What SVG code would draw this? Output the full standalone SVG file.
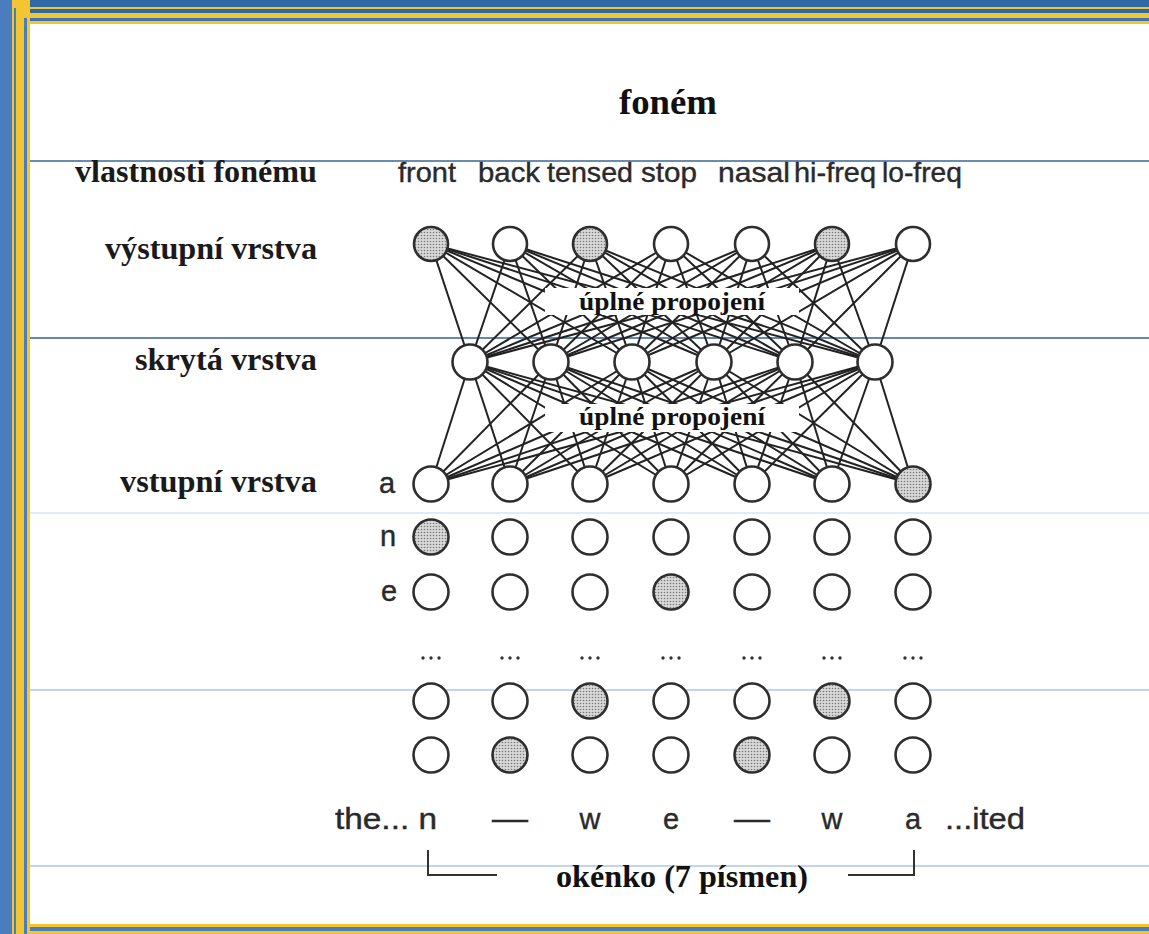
<svg xmlns="http://www.w3.org/2000/svg" width="1149" height="934" viewBox="0 0 1149 934">
<defs>
<pattern id="stip" width="3" height="3" patternUnits="userSpaceOnUse">
<rect width="3" height="3" fill="#d8d8d8"/>
<circle cx="1.5" cy="1.5" r="0.8" fill="#7a7a7a"/>
</pattern>
<style>
.lbl{font-family:"Liberation Serif",serif;font-weight:bold;font-size:31px;fill:#1a1a1a;text-anchor:end}
.ttl{font-family:"Liberation Serif",serif;font-weight:bold;font-size:36px;fill:#111;text-anchor:middle}
.feat{font-family:"Liberation Sans",Arial,sans-serif;font-size:28px;fill:#2a2a2a;stroke:#2a2a2a;stroke-width:0.4;text-anchor:middle}
.let{font-family:"Liberation Sans",Arial,sans-serif;font-size:29px;fill:#2a2a2a;stroke:#2a2a2a;stroke-width:0.4;text-anchor:middle}
.box{font-family:"Liberation Serif",serif;font-weight:bold;font-size:26px;fill:#111;text-anchor:middle}
.n{fill:#fff;stroke:#2e2e2e;stroke-width:2.6}
.s{fill:url(#stip);stroke:#2e2e2e;stroke-width:2.6}
.c{stroke:#222;stroke-width:2}
.dot{fill:#333}
</style>
</defs>
<rect width="1149" height="934" fill="#fff"/>
<g id="border">
<rect x="0" y="0" width="1149" height="24" fill="#f2c531"/>
<rect x="0" y="0" width="1149" height="7" fill="#2f6aa8"/>
<rect x="0" y="9" width="1149" height="4" fill="#2f6aa8"/>
<rect x="0" y="18" width="1149" height="3" fill="#3c73b0"/>
<rect x="0" y="924" width="1149" height="10" fill="#f2c531"/>
<rect x="0" y="927" width="1149" height="4" fill="#4a7dbd"/>
<rect x="0" y="0" width="30" height="934" fill="#f2c531"/>
<rect x="0" y="0" width="12" height="934" fill="#4a7dbd"/>
<rect x="14" y="8" width="2" height="926" fill="#4a7dbd"/>
<rect x="24" y="18" width="3" height="916" fill="#4a7dbd"/>
<rect x="30" y="24" width="1119" height="900" fill="#fff"/>
</g>
<g id="rules">
<line x1="30" y1="161" x2="1149" y2="161" stroke="#3a6698" stroke-width="1.3"/>
<line x1="30" y1="338" x2="1149" y2="338" stroke="#35618f" stroke-width="1.3"/>
<line x1="30" y1="513" x2="1149" y2="513" stroke="#c3d5ea" stroke-width="1"/>
<line x1="30" y1="690" x2="1149" y2="690" stroke="#86acd8" stroke-width="1"/>
<line x1="30" y1="866" x2="1149" y2="866" stroke="#86acd8" stroke-width="1"/>
</g>
<g id="connectors" class="c">
<g>
<line x1="431" y1="244" x2="470" y2="362"/><line x1="431" y1="244" x2="551" y2="362"/><line x1="431" y1="244" x2="632" y2="362"/><line x1="431" y1="244" x2="714" y2="362"/><line x1="431" y1="244" x2="795" y2="362"/><line x1="431" y1="244" x2="875" y2="362"/>
<line x1="510" y1="244" x2="470" y2="362"/><line x1="510" y1="244" x2="551" y2="362"/><line x1="510" y1="244" x2="632" y2="362"/><line x1="510" y1="244" x2="714" y2="362"/><line x1="510" y1="244" x2="795" y2="362"/><line x1="510" y1="244" x2="875" y2="362"/>
<line x1="590" y1="244" x2="470" y2="362"/><line x1="590" y1="244" x2="551" y2="362"/><line x1="590" y1="244" x2="632" y2="362"/><line x1="590" y1="244" x2="714" y2="362"/><line x1="590" y1="244" x2="795" y2="362"/><line x1="590" y1="244" x2="875" y2="362"/>
<line x1="671" y1="244" x2="470" y2="362"/><line x1="671" y1="244" x2="551" y2="362"/><line x1="671" y1="244" x2="632" y2="362"/><line x1="671" y1="244" x2="714" y2="362"/><line x1="671" y1="244" x2="795" y2="362"/><line x1="671" y1="244" x2="875" y2="362"/>
<line x1="752" y1="244" x2="470" y2="362"/><line x1="752" y1="244" x2="551" y2="362"/><line x1="752" y1="244" x2="632" y2="362"/><line x1="752" y1="244" x2="714" y2="362"/><line x1="752" y1="244" x2="795" y2="362"/><line x1="752" y1="244" x2="875" y2="362"/>
<line x1="832" y1="244" x2="470" y2="362"/><line x1="832" y1="244" x2="551" y2="362"/><line x1="832" y1="244" x2="632" y2="362"/><line x1="832" y1="244" x2="714" y2="362"/><line x1="832" y1="244" x2="795" y2="362"/><line x1="832" y1="244" x2="875" y2="362"/>
<line x1="913" y1="244" x2="470" y2="362"/><line x1="913" y1="244" x2="551" y2="362"/><line x1="913" y1="244" x2="632" y2="362"/><line x1="913" y1="244" x2="714" y2="362"/><line x1="913" y1="244" x2="795" y2="362"/><line x1="913" y1="244" x2="875" y2="362"/>
</g>
<g>
<line x1="470" y1="362" x2="431" y2="484"/><line x1="470" y1="362" x2="510" y2="484"/><line x1="470" y1="362" x2="590" y2="484"/><line x1="470" y1="362" x2="671" y2="484"/><line x1="470" y1="362" x2="752" y2="484"/><line x1="470" y1="362" x2="832" y2="484"/><line x1="470" y1="362" x2="913" y2="484"/>
<line x1="551" y1="362" x2="431" y2="484"/><line x1="551" y1="362" x2="510" y2="484"/><line x1="551" y1="362" x2="590" y2="484"/><line x1="551" y1="362" x2="671" y2="484"/><line x1="551" y1="362" x2="752" y2="484"/><line x1="551" y1="362" x2="832" y2="484"/><line x1="551" y1="362" x2="913" y2="484"/>
<line x1="632" y1="362" x2="431" y2="484"/><line x1="632" y1="362" x2="510" y2="484"/><line x1="632" y1="362" x2="590" y2="484"/><line x1="632" y1="362" x2="671" y2="484"/><line x1="632" y1="362" x2="752" y2="484"/><line x1="632" y1="362" x2="832" y2="484"/><line x1="632" y1="362" x2="913" y2="484"/>
<line x1="714" y1="362" x2="431" y2="484"/><line x1="714" y1="362" x2="510" y2="484"/><line x1="714" y1="362" x2="590" y2="484"/><line x1="714" y1="362" x2="671" y2="484"/><line x1="714" y1="362" x2="752" y2="484"/><line x1="714" y1="362" x2="832" y2="484"/><line x1="714" y1="362" x2="913" y2="484"/>
<line x1="795" y1="362" x2="431" y2="484"/><line x1="795" y1="362" x2="510" y2="484"/><line x1="795" y1="362" x2="590" y2="484"/><line x1="795" y1="362" x2="671" y2="484"/><line x1="795" y1="362" x2="752" y2="484"/><line x1="795" y1="362" x2="832" y2="484"/><line x1="795" y1="362" x2="913" y2="484"/>
<line x1="875" y1="362" x2="431" y2="484"/><line x1="875" y1="362" x2="510" y2="484"/><line x1="875" y1="362" x2="590" y2="484"/><line x1="875" y1="362" x2="671" y2="484"/><line x1="875" y1="362" x2="752" y2="484"/><line x1="875" y1="362" x2="832" y2="484"/><line x1="875" y1="362" x2="913" y2="484"/>
</g>
</g>
<g id="conn-label-1">
<rect x="545" y="288" width="254" height="27" fill="#fff"/>
<text class="box" x="672" y="310" textLength="186" lengthAdjust="spacingAndGlyphs">úplné propojení</text>
</g>
<g id="conn-label-2">
<rect x="545" y="404" width="254" height="28" fill="#fff"/>
<text class="box" x="672" y="425" textLength="186" lengthAdjust="spacingAndGlyphs">úplné propojení</text>
</g>
<g id="title"><text class="ttl" x="668" y="114" textLength="98" lengthAdjust="spacingAndGlyphs">foném</text></g>
<g id="labels">
<text class="lbl" x="317" y="182" textLength="242" lengthAdjust="spacingAndGlyphs">vlastnosti fonému</text>
<text class="lbl" x="317" y="259" textLength="212" lengthAdjust="spacingAndGlyphs">výstupní vrstva</text>
<text class="lbl" x="317" y="370" textLength="182" lengthAdjust="spacingAndGlyphs">skrytá vrstva</text>
<text class="lbl" x="317" y="492" textLength="197" lengthAdjust="spacingAndGlyphs">vstupní vrstva</text>
</g>
<g id="features">
<text class="feat" x="427" y="182" textLength="58" lengthAdjust="spacingAndGlyphs">front</text>
<text class="feat" x="509" y="182" textLength="62" lengthAdjust="spacingAndGlyphs">back</text>
<text class="feat" x="590" y="182" textLength="86" lengthAdjust="spacingAndGlyphs">tensed</text>
<text class="feat" x="669" y="182" textLength="56" lengthAdjust="spacingAndGlyphs">stop</text>
<text class="feat" x="754" y="182" textLength="72" lengthAdjust="spacingAndGlyphs">nasal</text>
<text class="feat" x="835" y="182" textLength="82" lengthAdjust="spacingAndGlyphs">hi-freq</text>
<text class="feat" x="922" y="182" textLength="80" lengthAdjust="spacingAndGlyphs">lo-freq</text>
</g>
<g id="output-layer">
<circle class="s" cx="431" cy="244" r="17"/><circle class="n" cx="510" cy="244" r="17"/><circle class="s" cx="590" cy="244" r="17"/><circle class="n" cx="671" cy="244" r="17"/><circle class="n" cx="752" cy="244" r="17"/><circle class="s" cx="832" cy="244" r="17"/><circle class="n" cx="913" cy="244" r="17"/>
</g>
<g id="hidden-layer">
<circle class="n" cx="470" cy="362" r="17.5"/><circle class="n" cx="551" cy="362" r="17.5"/><circle class="n" cx="632" cy="362" r="17.5"/><circle class="n" cx="714" cy="362" r="17.5"/><circle class="n" cx="795" cy="362" r="17.5"/><circle class="n" cx="875" cy="362" r="17.5"/>
</g>
<g id="input-row-a">
<text class="let" x="387" y="493">a</text>
<circle class="n" cx="431" cy="484" r="17.5"/><circle class="n" cx="510" cy="484" r="17.5"/><circle class="n" cx="590" cy="484" r="17.5"/><circle class="n" cx="671" cy="484" r="17.5"/><circle class="n" cx="752" cy="484" r="17.5"/><circle class="n" cx="832" cy="484" r="17.5"/><circle class="s" cx="913" cy="484" r="17.5"/>
</g>
<g id="input-row-n">
<text class="let" x="388" y="546">n</text>
<circle class="s" cx="431" cy="537" r="17.5"/><circle class="n" cx="510" cy="537" r="17.5"/><circle class="n" cx="590" cy="537" r="17.5"/><circle class="n" cx="671" cy="537" r="17.5"/><circle class="n" cx="752" cy="537" r="17.5"/><circle class="n" cx="832" cy="537" r="17.5"/><circle class="n" cx="913" cy="537" r="17.5"/>
</g>
<g id="input-row-e">
<text class="let" x="389" y="601">e</text>
<circle class="n" cx="431" cy="592" r="17.5"/><circle class="n" cx="510" cy="592" r="17.5"/><circle class="n" cx="590" cy="592" r="17.5"/><circle class="s" cx="671" cy="592" r="17.5"/><circle class="n" cx="752" cy="592" r="17.5"/><circle class="n" cx="832" cy="592" r="17.5"/><circle class="n" cx="913" cy="592" r="17.5"/>
</g>
<g id="ellipsis-row">
<circle class="dot" cx="423" cy="658" r="1.7"/><circle class="dot" cx="431" cy="658" r="1.7"/><circle class="dot" cx="439" cy="658" r="1.7"/>
<circle class="dot" cx="502" cy="658" r="1.7"/><circle class="dot" cx="510" cy="658" r="1.7"/><circle class="dot" cx="518" cy="658" r="1.7"/>
<circle class="dot" cx="582" cy="658" r="1.7"/><circle class="dot" cx="590" cy="658" r="1.7"/><circle class="dot" cx="598" cy="658" r="1.7"/>
<circle class="dot" cx="663" cy="658" r="1.7"/><circle class="dot" cx="671" cy="658" r="1.7"/><circle class="dot" cx="679" cy="658" r="1.7"/>
<circle class="dot" cx="744" cy="658" r="1.7"/><circle class="dot" cx="752" cy="658" r="1.7"/><circle class="dot" cx="760" cy="658" r="1.7"/>
<circle class="dot" cx="824" cy="658" r="1.7"/><circle class="dot" cx="832" cy="658" r="1.7"/><circle class="dot" cx="840" cy="658" r="1.7"/>
<circle class="dot" cx="905" cy="658" r="1.7"/><circle class="dot" cx="913" cy="658" r="1.7"/><circle class="dot" cx="921" cy="658" r="1.7"/>
</g>
<g id="input-row-6">
<circle class="n" cx="431" cy="701" r="17.5"/><circle class="n" cx="510" cy="701" r="17.5"/><circle class="s" cx="590" cy="701" r="17.5"/><circle class="n" cx="671" cy="701" r="17.5"/><circle class="n" cx="752" cy="701" r="17.5"/><circle class="s" cx="832" cy="701" r="17.5"/><circle class="n" cx="913" cy="701" r="17.5"/>
</g>
<g id="input-row-7">
<circle class="n" cx="431" cy="755" r="17.5"/><circle class="s" cx="510" cy="755" r="17.5"/><circle class="n" cx="590" cy="755" r="17.5"/><circle class="n" cx="671" cy="755" r="17.5"/><circle class="s" cx="752" cy="755" r="17.5"/><circle class="n" cx="832" cy="755" r="17.5"/><circle class="n" cx="913" cy="755" r="17.5"/>
</g>
<g id="input-text">
<text class="let" x="386" y="829" textLength="102" lengthAdjust="spacingAndGlyphs">the... n</text>
<text class="let" x="510" y="829" textLength="36" lengthAdjust="spacingAndGlyphs">—</text>
<text class="let" x="590" y="829">w</text>
<text class="let" x="671" y="829">e</text>
<text class="let" x="752" y="829" textLength="36" lengthAdjust="spacingAndGlyphs">—</text>
<text class="let" x="832" y="829">w</text>
<text class="let" x="913" y="829">a</text>
<text class="let" x="985" y="829" textLength="80" lengthAdjust="spacingAndGlyphs">...ited</text>
</g>
<g id="window">
<polyline points="428,850 428,875 497,875" fill="none" stroke="#333" stroke-width="2"/>
<polyline points="914,850 914,875 848,875" fill="none" stroke="#333" stroke-width="2"/>
<text class="ttl" x="682" y="887" style="font-size:31px" textLength="252" lengthAdjust="spacingAndGlyphs">okénko (7 písmen)</text>
</g>
</svg>
